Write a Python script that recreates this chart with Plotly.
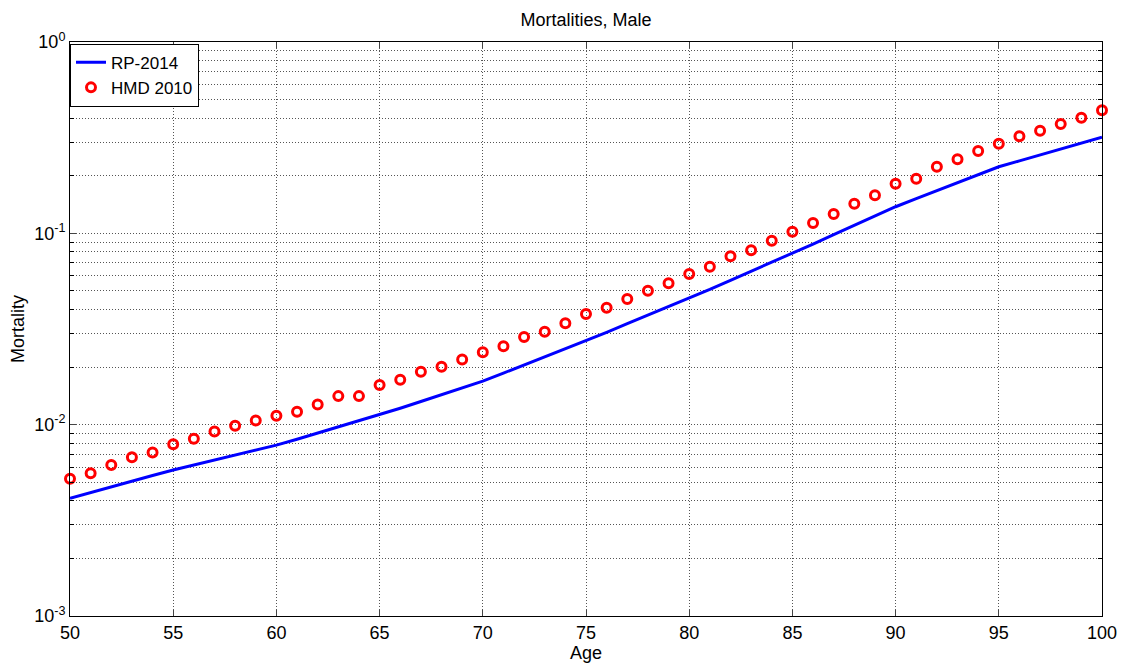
import plotly.graph_objects as go

ages = list(range(50, 101))

rp2014 = [0.00412, 0.00442, 0.00472, 0.00506, 0.00542, 0.00579, 0.00615, 0.00653, 0.00693, 0.00736,
          0.00782, 0.00839, 0.00904, 0.00971, 0.01045, 0.01122, 0.01219, 0.01321, 0.01435, 0.01556,
          0.0169, 0.0186, 0.0205, 0.0226, 0.0249, 0.0275, 0.0304, 0.0337, 0.0373, 0.0413,
          0.0457, 0.0509, 0.0568, 0.0632, 0.0705, 0.0785, 0.0879, 0.0984, 0.1099, 0.1230,
          0.1377, 0.1517, 0.1671, 0.1837, 0.2023, 0.2228, 0.2393, 0.2570, 0.2754, 0.2958,
          0.3177]

hmd2010 = [0.00521, 0.00558, 0.00615, 0.00675, 0.00716, 0.00789, 0.00844, 0.00922, 0.00987, 0.01052,
           0.01113, 0.01167, 0.01276, 0.01410, 0.01410, 0.0161, 0.01717, 0.0189, 0.0201, 0.0219,
           0.0239, 0.0257, 0.0287, 0.0306, 0.0339, 0.0379, 0.0408, 0.0454, 0.0501, 0.0548,
           0.0613, 0.0669, 0.0758, 0.0815, 0.0915, 0.1019, 0.1132, 0.1262, 0.1428, 0.158,
           0.1816, 0.1929, 0.2230, 0.2437, 0.2692, 0.294, 0.3215, 0.3437, 0.3726, 0.402,
           0.4394]

x_ticks = [50, 55, 60, 65, 70, 75, 80, 85, 90, 95, 100]
y_tickvals = [0.001, 0.01, 0.1, 1]
y_ticktext = ["10<sup>-3</sup>", "10<sup>-2</sup>", "10<sup>-1</sup>", "10<sup>0</sup>"]
decades = [0.001, 0.01, 0.1]
digits = [2, 3, 4, 5, 6, 7, 8, 9]
y_minor_vals = [d * k for d in decades for k in digits]

font_family = "Liberation Sans, Arial, sans-serif"

fig = go.Figure()
fig.add_trace(go.Scatter(x=ages, y=rp2014, mode="lines", name="RP-2014",
                         line=dict(color="#0000ff", width=3), cliponaxis=False))
fig.add_trace(go.Scatter(x=ages, y=hmd2010, mode="markers", name="HMD 2010", cliponaxis=False,
                         marker=dict(symbol="circle-open", size=9, color="#ff0000",
                                     line=dict(color="#ff0000", width=3))))

grid_color = "#555555"
grid_dash = "1px,2px"
fig.update_layout(
    width=1122, height=667,
    margin=dict(l=70, r=20, t=42, b=51),
    paper_bgcolor="white", plot_bgcolor="white",
    font=dict(family=font_family, size=18, color="black"),
    title=dict(text="Mortalities, Male", xref="paper", x=0.5, xanchor="center",
               y=0.971, yanchor="middle", font=dict(size=18, family=font_family)),
    showlegend=True,
    legend=dict(x=0.0, y=0.997, xanchor="left", yanchor="top",
                bgcolor="white", bordercolor="black", borderwidth=1,
                font=dict(size=17, family=font_family), tracegroupgap=0),
    xaxis=dict(range=[50, 100], tickvals=x_ticks, ticks="inside", ticklen=6,
               showline=True, linecolor="black", linewidth=1, mirror="allticks",
               showgrid=True, gridcolor=grid_color, griddash=grid_dash, gridwidth=1,
               zeroline=False, tickfont=dict(size=18), automargin=False,
               title=dict(text="Age", standoff=2, font=dict(size=18))),
    yaxis=dict(type="log", range=[-3, 0], tickvals=y_tickvals, ticktext=y_ticktext,
               ticks="inside", ticklen=6, tickfont=dict(size=18), automargin=False,
               showline=True, linecolor="black", linewidth=1, mirror="allticks",
               showgrid=True, gridcolor=grid_color, griddash=grid_dash, gridwidth=1,
               zeroline=False,
               minor=dict(tickmode="array", tickvals=y_minor_vals, ticks="inside", ticklen=4,
                          tickcolor="black", showgrid=True,
                          gridcolor=grid_color, griddash=grid_dash, gridwidth=1),
               title=dict(text="Mortality", standoff=4, font=dict(size=18))),
)

fig.write_html("out.html")
